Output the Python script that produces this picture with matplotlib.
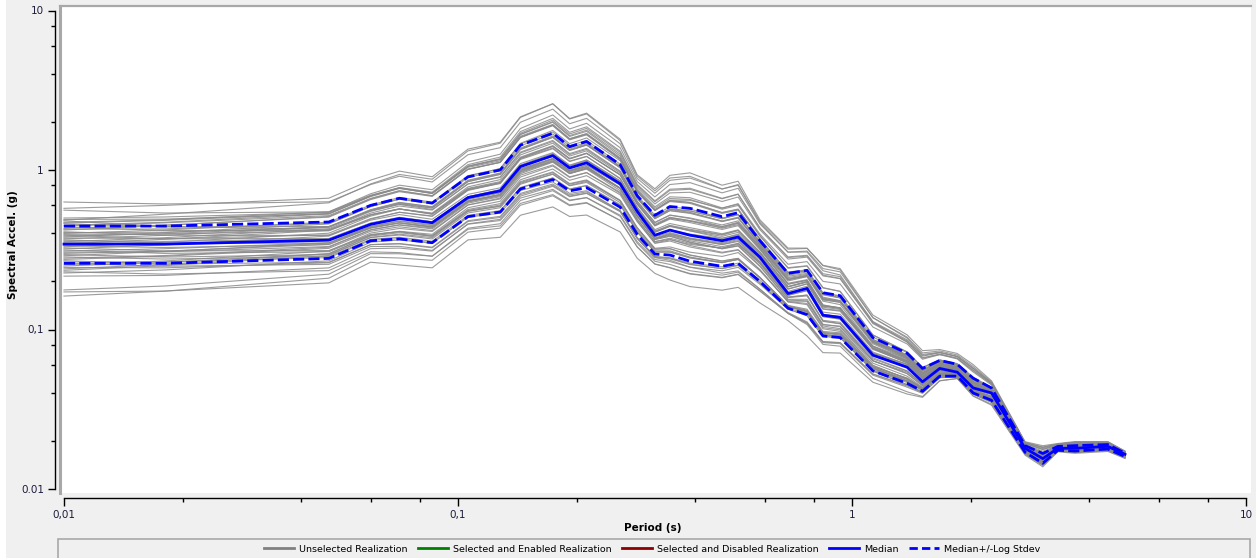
import numpy as np
import matplotlib
matplotlib.use("Agg")
import matplotlib.pyplot as plt
from matplotlib.lines import Line2D
from matplotlib.patches import Rectangle
from matplotlib.ticker import FixedLocator, NullFormatter

# periods (s) of the spectrum vertices
periods = [0.01, 0.018, 0.047, 0.06, 0.071, 0.086, 0.106, 0.128, 0.144, 0.174,
           0.192, 0.212, 0.258, 0.285, 0.316, 0.345, 0.388, 0.468, 0.514, 0.584,
           0.688, 0.769, 0.844, 0.933, 1.13, 1.38, 1.51, 1.67, 1.85, 2.03,
           2.26, 2.75, 3.05, 3.33, 3.68, 4.46, 4.93]

median = [0.343, 0.343, 0.363, 0.456, 0.496, 0.467, 0.671, 0.74, 1.05, 1.23,
          1.03, 1.11, 0.82, 0.55, 0.39, 0.42, 0.39, 0.36, 0.38, 0.284,
          0.168, 0.181, 0.123, 0.119, 0.069, 0.058, 0.047, 0.057, 0.054, 0.043,
          0.04, 0.018, 0.0155, 0.018, 0.018, 0.0185, 0.0165]

upper = [0.445, 0.445, 0.472, 0.60, 0.665, 0.62, 0.905, 1.0, 1.43, 1.70,
         1.40, 1.51, 1.08, 0.69, 0.52, 0.59, 0.575, 0.51, 0.54, 0.36,
         0.225, 0.235, 0.17, 0.163, 0.089, 0.071, 0.057, 0.064, 0.0605, 0.0495,
         0.043, 0.0187, 0.0167, 0.0185, 0.0187, 0.019, 0.0168]

lower = [0.26, 0.26, 0.279, 0.36, 0.37, 0.35, 0.51, 0.545, 0.76, 0.87,
         0.74, 0.775, 0.585, 0.395, 0.297, 0.293, 0.268, 0.249, 0.26, 0.2,
         0.136, 0.124, 0.091, 0.089, 0.055, 0.046, 0.041, 0.051, 0.051, 0.040,
         0.036, 0.017, 0.0145, 0.0175, 0.0173, 0.0178, 0.016]

# short-period level of each realization, its drift to long periods and
# its mid-period hump (both in stdev units)
real_level = [0.63, 0.575, 0.56, 0.50, 0.49, 0.485, 0.48, 0.47, 0.465, 0.46,
              0.45, 0.445, 0.44, 0.43, 0.425, 0.42, 0.41, 0.405, 0.40, 0.395,
              0.39, 0.385, 0.38, 0.375, 0.37, 0.365, 0.36, 0.355, 0.35, 0.345,
              0.34, 0.335, 0.33, 0.325, 0.32, 0.315, 0.31, 0.305, 0.30, 0.295,
              0.29, 0.285, 0.28, 0.275, 0.27, 0.265, 0.26, 0.255, 0.25, 0.245,
              0.24, 0.235, 0.23, 0.226, 0.216, 0.177, 0.172, 0.162]
real_drift = [0.3, -0.8, 0.5, -1.2, 0.9, 0.2, -0.4, 1.1, -0.6, 0.0,
              0.7, -1.0, 0.4, -0.2, 1.3, -0.9, 0.1, 0.6, -0.5, -1.3,
              0.8, 0.3, -0.7, 1.0, -0.1, 0.5, -1.1, 0.2, 0.9, -0.3,
              -0.8, 1.2, 0.0, -0.6, 0.4, 1.4, -1.2, 0.6, -0.2, 0.8,
              -0.9, 0.3, 1.1, -0.4, 0.7, -1.0, 0.2, 1.3, -0.5, 0.5,
              1.0, -0.3, 0.9, 0.6, 1.5, 1.8, 1.2, 1.6]
real_hump = [-0.4, 0.7, -0.6, 0.5, -0.2, 0.9, -0.8, 0.1, 0.6, -0.5,
             0.3, 0.8, -0.7, 0.6, -0.3, 1.0, -0.6, -0.1, 0.7, 0.4,
             -0.8, 0.3, 0.9, -0.4, 0.6, -0.7, 0.2, 0.6, -0.4, 0.8,
             0.4, -0.6, 0.7, -0.3, 0.5, -0.9, 0.7, -0.1, 0.4, -0.6,
             0.9, -0.4, 0.1, 0.6, -0.7, 0.3, -0.5, 0.2, 0.7, -0.2,
             0.4, 0.8, -0.6, 0.3, -0.3, 0.1, -0.2, 0.3]

legend_labels = ["Unselected Realization", "Selected and Enabled Realization",
                 "Selected and Disabled Realization", "Median", "Median+/-Log Stdev"]

W, H = 1256, 558
fig = plt.figure(figsize=(W / 100, H / 100), dpi=100, facecolor="#f0f0f0")


def fx(px):
    return px / W


def fy(py):
    return 1 - py / H


def per(px):
    return 10 ** (-2 + (px - 64) / 394.0)


def acc(py):
    return 10 ** (-2 + (489 - py) / 159.5)


# main plot area
ax = fig.add_axes([fx(60), fy(493), fx(1251) - fx(60), fy(6) - fy(493)])
ax.set_facecolor("white")
ax.set_xscale("log")
ax.set_yscale("log")
ax.set_xlim(per(60), per(1251))
ax.set_ylim(acc(493), acc(6))
ax.set_xticks([])
ax.set_yticks([])
ax.minorticks_off()
for s in ["right", "bottom"]:
    ax.spines[s].set_visible(False)
ax.spines["left"].set_color("#a8a8a8")
ax.spines["left"].set_linewidth(2.2)
ax.spines["top"].set_color("#a8a8a8")
ax.spines["top"].set_linewidth(1.6)

T = np.array(periods)
med = np.array(median)
up = np.array(upper)
lo = np.array(lower)
frac = np.log10(T / T[0]) / np.log10(T[-1] / T[0])
hump = 4 * frac * (1 - frac)

for lev, drift, bump in zip(real_level, real_drift, real_hump):
    if lev >= med[0]:
        z0 = np.log10(lev / med[0]) / np.log10(up[0] / med[0])
    else:
        z0 = np.log10(lev / med[0]) / np.log10(med[0] / lo[0])
    z = z0 + drift * frac + bump * hump
    ratio = np.where(z >= 0, up / med, med / lo)
    ax.plot(T, med * ratio ** z, color="#8a8a8a", lw=0.8, alpha=0.85)

ax.plot(T, up, color="#0000ff", lw=2, dashes=(4, 1.5))
ax.plot(T, lo, color="#0000ff", lw=2, dashes=(4, 1.5))
ax.plot(T, med, color="#0000ff", lw=2)

# separate y axis
tick_color = "#1c1c3c"
ay = fig.add_axes([fx(55), fy(489), 0.0001, fy(10.5) - fy(489)])
ay.set_yscale("log")
ay.set_ylim(0.01, 10)
ay.patch.set_visible(False)
for s in ["right", "top", "bottom"]:
    ay.spines[s].set_visible(False)
ay.spines["left"].set_linewidth(1)
ay.set_xticks([])
ay.yaxis.set_major_locator(FixedLocator([0.01, 0.1, 1, 10]))
ay.set_yticklabels(["0.01", "0,1", "1", "10"])
ay.yaxis.set_minor_locator(FixedLocator([m * d for d in [0.01, 0.1, 1] for m in [2, 4, 6, 8]]))
ay.yaxis.set_minor_formatter(NullFormatter())
ay.tick_params(axis="y", which="major", length=5, width=1, pad=3, labelsize=7.5, labelcolor=tick_color)
ay.tick_params(axis="y", which="minor", length=3, width=1)
fig.text(fx(13), fy(245), "Spectral Accel. (g)", rotation=90, fontsize=7.5,
         fontweight="bold", ha="center", va="center")

# separate x axis
axx = fig.add_axes([fx(64), fy(498), fx(1246) - fx(64), 0.0001])
axx.set_xscale("log")
axx.set_xlim(0.01, 10)
axx.patch.set_visible(False)
for s in ["left", "right", "bottom"]:
    axx.spines[s].set_visible(False)
axx.spines["top"].set_linewidth(1)
axx.set_yticks([])
axx.xaxis.set_ticks_position("top")
axx.xaxis.set_major_locator(FixedLocator([0.01, 0.1, 1, 10]))
axx.xaxis.set_minor_locator(FixedLocator([m * d for d in [0.01, 0.1, 1] for m in [2, 4, 6, 8]]))
axx.xaxis.set_minor_formatter(NullFormatter())
axx.tick_params(axis="x", which="both", direction="in", top=True, bottom=False,
                labeltop=False, labelbottom=False)
axx.tick_params(axis="x", which="major", length=6, width=1)
axx.tick_params(axis="x", which="minor", length=3, width=1)
for v, lab in zip([0.01, 0.1, 1, 10], ["0,01", "0,1", "1", "10"]):
    xx = fx(64) + (np.log10(v) + 2) / 3 * (fx(1246) - fx(64))
    fig.text(xx, fy(515), lab, fontsize=7.5, color=tick_color, ha="center", va="center")
fig.text(fx(653), fy(528), "Period (s)", fontsize=7.5, fontweight="bold",
         ha="center", va="center")

# legend box
fig.patches.append(Rectangle((fx(58), fy(560)), fx(1250) - fx(58), fy(539) - fy(560),
                             transform=fig.transFigure, facecolor="#f0f0f0",
                             edgecolor="#a8a8a8", lw=1.2))
fig.patches.append(Rectangle((0, 0), fx(6), 1, transform=fig.transFigure,
                             facecolor="white", edgecolor="none"))
handles = [Line2D([], [], color="#808080", lw=2),
           Line2D([], [], color="#008000", lw=2),
           Line2D([], [], color="#8b0000", lw=2),
           Line2D([], [], color="#0000ff", lw=2),
           Line2D([], [], color="#0000ff", lw=2, dashes=(3, 1.5))]
fig.legend(handles, legend_labels, loc="center", bbox_to_anchor=(fx(652), fy(549)),
           ncol=5, frameon=False, fontsize=6.8, handlelength=3.2, handletextpad=0.5,
           columnspacing=1.1)

fig.savefig("out.png", dpi=100, facecolor=fig.get_facecolor())
